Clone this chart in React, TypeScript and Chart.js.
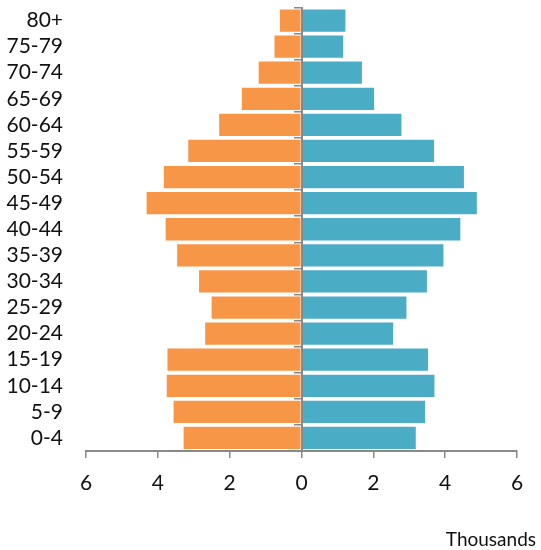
import React, { useEffect, useRef } from "react";
import { Chart, registerables } from "chart.js";

Chart.register(...registerables);

const categories = ["80+", "75-79", "70-74", "65-69", "60-64", "55-59", "50-54", "45-49", "40-44", "35-39", "30-34", "25-29", "20-24", "15-19", "10-14", "5-9", "0-4"];
const maleValues = [0.63, 0.78, 1.22, 1.69, 2.32, 3.18, 3.86, 4.34, 3.81, 3.49, 2.88, 2.53, 2.71, 3.76, 3.78, 3.59, 3.31];
const femaleValues = [1.25, 1.19, 1.71, 2.05, 2.81, 3.72, 4.55, 4.91, 4.45, 3.98, 3.52, 2.95, 2.58, 3.55, 3.73, 3.47, 3.21];
const xMin = -6;
const xMax = 6;
const xStep = 2;
const unitLabel = "Thousands";

const FONT = "Lato";
const TEXT = "#111111";
const AXIS = "#898989";

const unitPlugin = {
  id: "unitLabel",
  afterDraw(chart: any) {
    const ctx = chart.ctx;
    ctx.save();
    ctx.font = `19px ${FONT}`;
    ctx.fillStyle = TEXT;
    ctx.textAlign = "right";
    ctx.textBaseline = "middle";
    ctx.fillText(unitLabel, chart.width - 5, 540);
    ctx.restore();
  },
};

export default function App() {
  const ref = useRef<HTMLCanvasElement | null>(null);
  useEffect(() => {
    if (!ref.current) return;
    const chart = new Chart(ref.current, {
      type: "bar",
      data: {
        labels: categories,
        datasets: [
          {
            label: "Male",
            data: maleValues.map((v) => -v),
            backgroundColor: "#F79646",
            borderColor: "rgba(255,255,255,0.55)",
            borderWidth: 1,
            barPercentage: 0.93,
            categoryPercentage: 1,
          },
          {
            label: "Female",
            data: femaleValues,
            backgroundColor: "#4BACC6",
            borderColor: "rgba(255,255,255,0.55)",
            borderWidth: 1,
            barPercentage: 0.93,
            categoryPercentage: 1,
          },
        ],
      },
      options: {
        indexAxis: "y",
        responsive: false,
        animation: false,
        layout: { padding: { top: 7.5, right: 24, left: 0, bottom: 0 } },
        plugins: {
          legend: { display: false },
          tooltip: { enabled: false },
          title: { display: false },
        },
        scales: {
          x: {
            type: "linear",
            position: "bottom",
            stacked: true,
            min: xMin,
            max: xMax,
            afterFit: (s: any) => {
              s.height = 99;
              s.paddingLeft = 0;
              s.paddingRight = 0;
            },
            ticks: {
              stepSize: xStep,
              callback: (v: any) => String(Math.abs(Number(v))),
              font: { family: FONT, size: 21 },
              color: TEXT,
              padding: 13,
            },
            grid: {
              drawOnChartArea: false,
              drawTicks: true,
              tickLength: 7,
              color: AXIS,
              lineWidth: 1.5,
            },
            border: { display: true, color: AXIS, width: 2 },
          },
          y: {
            type: "category",
            position: "left",
            stacked: true,
            offset: true,
            afterFit: (s: any) => {
              s.width = 86;
              s.paddingTop = 0;
              s.paddingBottom = 0;
            },
            ticks: {
              autoSkip: false,
              font: { family: FONT, size: 21 },
              color: TEXT,
              padding: 23,
            },
            grid: { display: false, drawTicks: false },
            border: { display: false },
          },
          y2: {
            type: "category",
            axis: "y",
            position: { x: 0 },
            offset: true,
            afterFit: (s: any) => {
              s.paddingTop = 0;
              s.paddingBottom = 0;
            },
            ticks: { display: false, autoSkip: false },
            grid: {
              display: true,
              offset: true,
              drawOnChartArea: false,
              drawTicks: true,
              tickLength: 7,
              color: AXIS,
              lineWidth: 1.5,
              z: 1,
            },
            border: { display: true, color: AXIS, width: 2, z: 1 },
          },
        } as any,
      },
      plugins: [unitPlugin],
    });
    return () => chart.destroy();
  }, []);
  return (
    <div style={{ position: "absolute", left: 0, top: 0, width: 541, height: 550 }}>
      <canvas ref={ref} width={541} height={550} style={{ display: "block" }} />
    </div>
  );
}
